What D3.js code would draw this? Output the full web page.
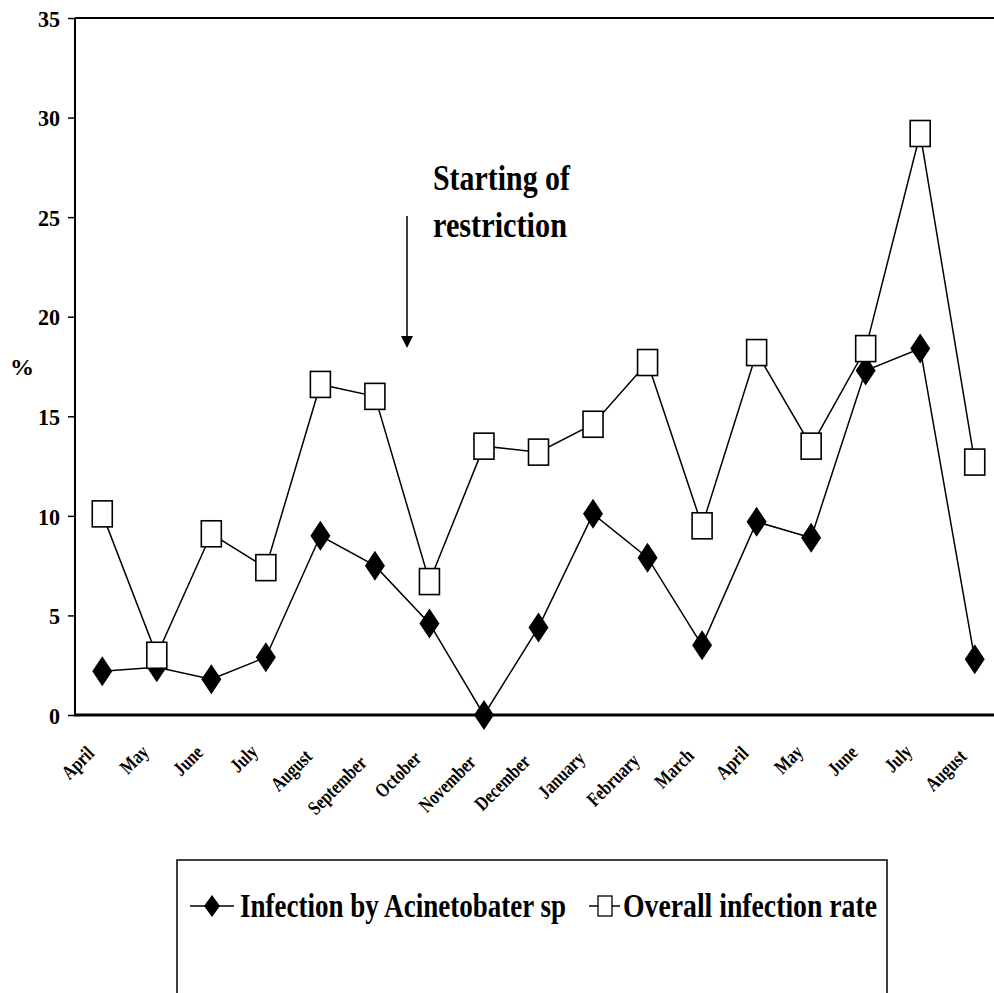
<!DOCTYPE html>
<html><head><meta charset="utf-8">
<script src="https://cdn.jsdelivr.net/npm/d3@7"></script>
<style>body{margin:0;background:#fff}svg{display:block}</style>
</head><body>
<svg id="c" width="994" height="993"></svg>
<script>
const months = ["April","May","June","July","August","September","October","November","December","January","February","March","April","May","June","July","August"];
const acinetobacter = [2.2,2.4,1.8,2.9,9.0,7.5,4.6,0,4.4,10.1,7.9,3.5,9.7,8.9,17.3,18.4,2.8];
const overall = [10.1,3.0,9.1,7.4,16.6,16.0,6.7,13.5,13.2,14.6,17.7,9.5,18.2,13.5,18.4,29.2,12.7];
const yTicks = [0,5,10,15,20,25,30,35];
const seriesNames = ["Infection by Acinetobater sp","Overall infection rate"];
const annotation = ["Starting of","restriction"];

(function(){
const svg = d3.select("#c");
const FONT = "'Liberation Serif','Times New Roman',serif";
const pLeft = 75, pRight = 1002, pTop = 18, pBottom = 715;
const idx = d3.range(months.length);
const x = d3.scaleBand().domain(idx).range([pLeft, pRight]);
const cx = i => x(i) + x.bandwidth()/2;
const y = d3.scaleLinear().domain([0,35]).range([pBottom, pTop]);

// top border
svg.append("line").attr("x1",pLeft).attr("x2",994).attr("y1",pTop).attr("y2",pTop)
  .attr("stroke","#000").attr("stroke-width",2);

// y axis
const ya = svg.append("g").attr("transform",`translate(${pLeft},0)`)
  .call(d3.axisLeft(y).tickValues(yTicks).tickSize(7).tickPadding(8).tickFormat(d3.format("d")));
ya.select(".domain").attr("stroke-width",2).attr("d",`M0,${pTop}V${pBottom}`);
ya.selectAll(".tick line").attr("stroke-width",1.5);
ya.selectAll("text").attr("font-family",FONT).attr("font-weight","bold").attr("font-size",24).attr("fill","#000")
  .attr("dy","0.34em")
  .each(function(){ const w=this.getComputedTextLength(); d3.select(this).attr("textLength",w*0.92).attr("lengthAdjust","spacingAndGlyphs"); });

// x axis line
svg.append("line").attr("x1",pLeft-1).attr("x2",994).attr("y1",pBottom).attr("y2",pBottom)
  .attr("stroke","#000").attr("stroke-width",3);

// x labels
const xl = svg.append("g");
idx.forEach(i=>{
  const t = xl.append("text").text(months[i])
    .attr("font-family",FONT).attr("font-weight","bold").attr("font-size",20)
    .attr("text-anchor","end");
  const nat = t.node().getComputedTextLength();
  const len = nat*0.8;
  t.attr("textLength",len).attr("lengthAdjust","spacingAndGlyphs");
  const ex = cx(i) - 7;
  const ey = 756 + 0.25*(len-42);
  t.attr("transform",`translate(${ex},${ey}) rotate(-45)`);
});

// % label
svg.append("text").text("%").attr("x",22).attr("y",375).attr("text-anchor","middle")
  .attr("font-family",FONT).attr("font-weight","bold").attr("font-size",24);

const line = d3.line().x((d,i)=>cx(i)).y(d=>y(d));
const diamond = (w,h)=>`M0,${-h/2}L${w/2},0L0,${h/2}L${-w/2},0Z`;

// series 1
svg.append("path").datum(acinetobacter).attr("d",line).attr("fill","none").attr("stroke","#000").attr("stroke-width",1.5);
svg.append("g").selectAll("path").data(acinetobacter).join("path")
  .attr("transform",(d,i)=>`translate(${cx(i)},${y(d)})`)
  .attr("d",diamond(20,30)).attr("fill","#000");

// series 2
svg.append("path").datum(overall).attr("d",line).attr("fill","none").attr("stroke","#000").attr("stroke-width",1.5);
svg.append("g").selectAll("rect").data(overall).join("rect")
  .attr("x",(d,i)=>cx(i)-10).attr("y",d=>y(d)-13).attr("width",20).attr("height",26)
  .attr("fill","#fff").attr("stroke","#000").attr("stroke-width",1.6);

// annotation
annotation.forEach((s,k)=>{
  svg.append("text").text(s).attr("x",433).attr("y",190+k*47)
    .attr("font-family",FONT).attr("font-weight","bold").attr("font-size",36)
    .attr("textLength",k===0?137:134).attr("lengthAdjust","spacingAndGlyphs");
});
svg.append("line").attr("x1",407).attr("x2",407).attr("y1",216).attr("y2",336)
  .attr("stroke","#000").attr("stroke-width",1.5);
svg.append("path").attr("d","M401,336L413,336L407,348Z").attr("fill","#000");

// legend
svg.append("path").attr("d","M177,1000V860H887V1000").attr("fill","none").attr("stroke","#000").attr("stroke-width",1.5);
const ly = 906;
svg.append("line").attr("x1",190).attr("x2",234).attr("y1",ly).attr("y2",ly).attr("stroke","#000").attr("stroke-width",1.5);
svg.append("path").attr("transform",`translate(212,${ly})`).attr("d",diamond(16,22)).attr("fill","#000");
svg.append("text").text(seriesNames[0]).attr("x",240).attr("y",ly+11)
  .attr("font-family",FONT).attr("font-weight","bold").attr("font-size",33)
  .attr("textLength",326).attr("lengthAdjust","spacingAndGlyphs");
svg.append("line").attr("x1",589).attr("x2",620).attr("y1",ly).attr("y2",ly).attr("stroke","#000").attr("stroke-width",1.5);
svg.append("rect").attr("x",598).attr("y",ly-10).attr("width",14).attr("height",20).attr("fill","#fff").attr("stroke","#000").attr("stroke-width",1.3);
svg.append("text").text(seriesNames[1]).attr("x",623).attr("y",ly+11)
  .attr("font-family",FONT).attr("font-weight","bold").attr("font-size",33)
  .attr("textLength",254).attr("lengthAdjust","spacingAndGlyphs");
})();
</script>
</body></html>
